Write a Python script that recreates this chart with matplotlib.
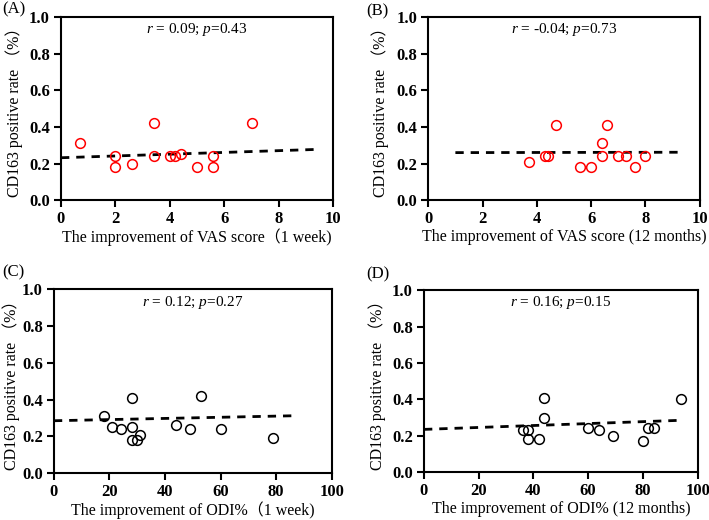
import matplotlib
matplotlib.use('Agg')
import matplotlib.pyplot as plt

plt.rcParams['font.family'] = ['Liberation Serif', 'Noto Sans CJK SC', 'DejaVu Serif']
plt.rcParams['mathtext.fontset'] = 'custom'
plt.rcParams['mathtext.rm'] = 'Liberation Serif'
plt.rcParams['mathtext.it'] = 'Liberation Serif:italic'

# panel A: VAS 1 week
vas1w_x = [0.7, 2, 2, 2.6, 3.4, 3.4, 4.0, 4.2, 4.4, 5.0, 5.6, 5.6, 7.0]
vas1w_y = [0.31, 0.24, 0.18, 0.20, 0.42, 0.24, 0.24, 0.24, 0.25, 0.18, 0.24, 0.18, 0.42]
vas1w_fit_x = [0, 9.3]
vas1w_fit_y = [0.232, 0.277]

# panel B: VAS 12 months
vas12m_x = [3.7, 4.3, 4.4, 4.7, 5.6, 6.0, 6.4, 6.4, 6.6, 7.0, 7.3, 7.6, 8.0]
vas12m_y = [0.21, 0.24, 0.24, 0.41, 0.18, 0.18, 0.31, 0.24, 0.41, 0.24, 0.24, 0.18, 0.24]
vas12m_fit_x = [1.0, 9.4]
vas12m_fit_y = [0.260, 0.262]

# panel C: ODI 1 week
odi1w_x = [18, 21, 24, 28, 28, 28, 30, 31, 44, 49, 53, 60, 79]
odi1w_y = [0.31, 0.25, 0.24, 0.41, 0.25, 0.18, 0.18, 0.21, 0.26, 0.24, 0.42, 0.24, 0.19]
odi1w_fit_x = [0, 86]
odi1w_fit_y = [0.285, 0.312]

# panel D: ODI 12 months
odi12m_x = [36, 38, 38, 42, 44, 44, 60, 64, 69, 80, 82, 84, 94]
odi12m_y = [0.23, 0.23, 0.18, 0.18, 0.41, 0.30, 0.24, 0.23, 0.20, 0.17, 0.24, 0.24, 0.40]
odi12m_fit_x = [0, 94]
odi12m_fit_y = [0.235, 0.285]

panels = [
    ('(A)', vas1w_x, vas1w_y, vas1w_fit_x, vas1w_fit_y, 'red', 10, [0, 2, 4, 6, 8, 10],
     'The improvement of VAS score（1 week)', r'$\it{r}$ = 0.09; $\it{p}$=0.43',
     [0.086, 0.615, 0.384, 0.352], (0.003, 0.981), 4),
    ('(B)', vas12m_x, vas12m_y, vas12m_fit_x, vas12m_fit_y, 'red', 10, [0, 2, 4, 6, 8, 10],
     'The improvement of VAS score (12 months)', r'$\it{r}$ = -0.04; $\it{p}$=0.73',
     [0.604, 0.615, 0.383, 0.352], (0.517, 0.978), 5),
    ('(C)', odi1w_x, odi1w_y, odi1w_fit_x, odi1w_fit_y, 'black', 100, [0, 20, 40, 60, 80, 100],
     'The improvement of ODI%（1 week)', r'$\it{r}$ = 0.12; $\it{p}$=0.27',
     [0.076, 0.090, 0.392, 0.354], (0.003, 0.477), 1.5),
    ('(D)', odi12m_x, odi12m_y, odi12m_fit_x, odi12m_fit_y, 'black', 100, [0, 20, 40, 60, 80, 100],
     'The improvement of ODI% (12 months)', r'$\it{r}$ = 0.16; $\it{p}$=0.15',
     [0.598, 0.092, 0.386, 0.350], (0.517, 0.472), 4),
]

fig = plt.figure(figsize=(7.09, 5.2), dpi=100)

for label, x, y, fx, fy, col, xmax, xticks, xlab, stat, rect, lpos, ypad in panels:
    ax = fig.add_axes(rect)
    ax.plot(x, y, 'o', mfc='none', mec=col, ms=7, mew=1.1, zorder=3)
    ax.plot(fx, fy, '--', color='black', lw=2, dashes=(3, 2.5))
    ax.set_xlim(0, xmax)
    ax.set_ylim(0, 1.0)
    ax.set_xticks(xticks)
    ax.set_yticks([0.0, 0.2, 0.4, 0.6, 0.8, 1.0])
    ax.set_yticklabels(['0.0', '0.2', '0.4', '0.6', '0.8', '1.0'])
    for s in ax.spines.values():
        s.set_linewidth(1.5)
    ax.tick_params(width=1.5, length=5, labelsize=12, pad=3)
    for t in ax.get_xticklabels() + ax.get_yticklabels():
        t.set_fontweight('bold')
    ax.set_xlabel(xlab, fontsize=11.5, labelpad=1)
    ax.set_ylabel('CD163 positive rate （%）', fontsize=11.5, labelpad=ypad)
    ax.text(0.5, 0.93, stat, transform=ax.transAxes, ha='center', va='center', fontsize=11)
    fig.text(lpos[0], lpos[1], label, fontsize=12, ha='left', va='center')

fig.savefig('out.png', dpi=100)
